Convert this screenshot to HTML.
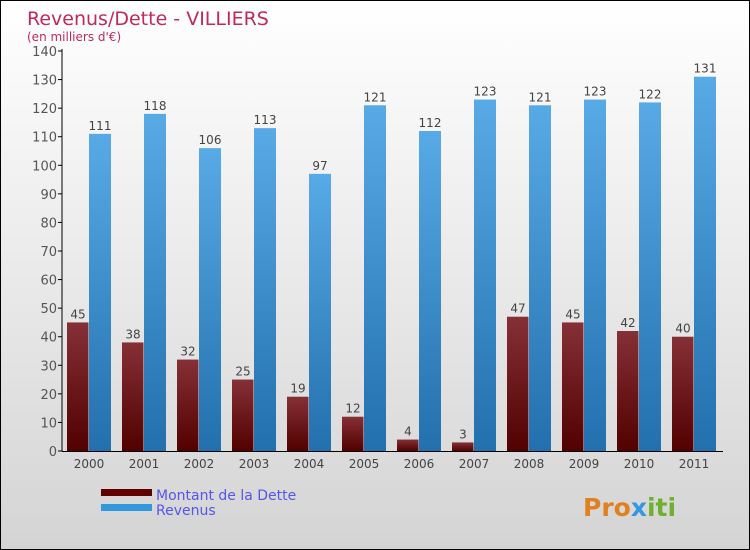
<!DOCTYPE html>
<html><head><meta charset="utf-8"><style>
body{margin:0}
#c{width:748px;height:548px;border:1px solid #000;background:linear-gradient(#fff,#d4d4d4);position:relative;overflow:hidden;font-family:"DejaVu Sans","Liberation Sans",sans-serif}
</style></head><body>
<div id="c">
<svg width="748" height="548" id="s">
<defs>
<linearGradient id="gr" x1="0" y1="0" x2="0" y2="1"><stop offset="0" stop-color="#853036"/><stop offset="1" stop-color="#520000"/></linearGradient>
<linearGradient id="gb" x1="0" y1="0" x2="0" y2="1"><stop offset="0" stop-color="#58aae6"/><stop offset="1" stop-color="#2270ad"/></linearGradient>
</defs>
<text x="26" y="24" font-size="19" fill="#c0285e">Revenus/Dette - VILLIERS</text>
<text x="26" y="40" font-size="12" fill="#c0285e">(en milliers d'€)</text>
<g id="g"></g>
<rect x="100" y="488" width="51" height="7" fill="#600000"/>
<rect x="100" y="503" width="51" height="7" fill="#3399dd"/>
<text x="155" y="499" font-size="14" fill="#5555ee">Montant de la Dette</text>
<text x="155" y="514" font-size="14" fill="#5555ee">Revenus</text>
<text x="582" y="515" font-size="25" font-weight="bold" fill="#e08020">Pro<tspan fill="#3399dd">x</tspan><tspan fill="#70b030">iti</tspan></text>
</svg></div>
<script>
const years=["2000","2001","2002","2003","2004","2005","2006","2007","2008","2009","2010","2011"];
const dette=[45,38,32,25,19,12,4,3,47,45,42,40];
const revenus=[111,118,106,113,97,121,112,123,121,123,122,131];
const ticks=[0,10,20,30,40,50,60,70,80,90,100,110,120,130,140];
const NS="http://www.w3.org/2000/svg",g=document.getElementById('g');
const y=v=>450-v*400/140, x=i=>66+i*55;
function mk(t,a,txt){const e=document.createElementNS(NS,t);for(const k in a)e.setAttribute(k,a[k]);if(txt!==undefined)e.textContent=txt;g.appendChild(e);return e;}
ticks.forEach(t=>{
 let e=mk('line',{x1:57,x2:61,y1:y(t),y2:y(t),stroke:'#000'});
 
 
 e=mk('text',{x:56,y:y(t)+5,'font-size':13,fill:'#555','text-anchor':'end'},t);
 
 
});
years.forEach((yr,i)=>{
 let e=mk('rect',{x:x(i),y:y(dette[i]),width:21.5,height:450-y(dette[i]),fill:'url(#gr)'});
 
 
 e=mk('rect',{x:x(i)+22,y:y(revenus[i]),width:22,height:450-y(revenus[i]),fill:'url(#gb)'});
 
 
 e=mk('text',{x:x(i)+11,y:y(dette[i])-4,'font-size':12,fill:'#444','text-anchor':'middle'},dette[i]);
 
 
 e=mk('text',{x:x(i)+33,y:y(revenus[i])-4,'font-size':12,fill:'#444','text-anchor':'middle'},revenus[i]);
 
 
 e=mk('text',{x:x(i)+22,y:467,'font-size':12,fill:'#444','text-anchor':'middle'},yr);
 
 
});
let a=mk('line',{x1:61,x2:61,y1:48,y2:450,stroke:'#000'});


a=mk('line',{x1:61,x2:722,y1:450.5,y2:450.5,stroke:'#000'});


</script>
</body></html>
